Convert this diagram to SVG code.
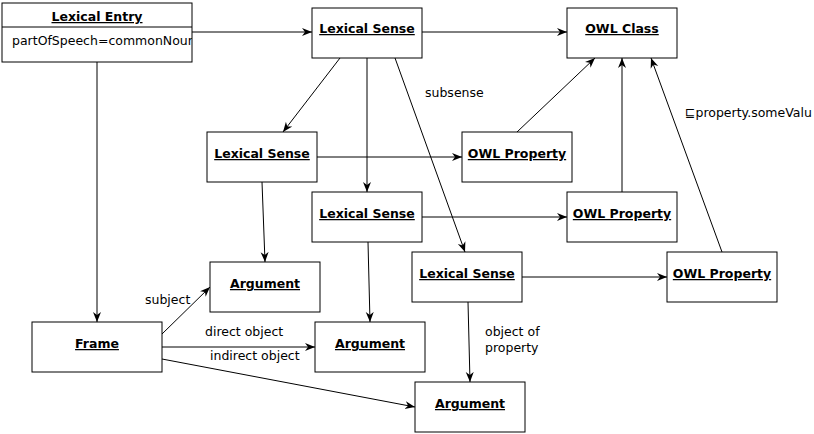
<svg xmlns="http://www.w3.org/2000/svg" width="814" height="434" viewBox="0 0 814 434">
<style>
.box{fill:#fff;stroke:#000;stroke-width:1}
.t{font-family:"DejaVu Sans",sans-serif;font-size:12.5px;font-weight:bold;text-anchor:middle;text-decoration:underline;fill:#000}
.l{font-family:"DejaVu Sans",sans-serif;font-size:12.5px;fill:#000}
.c{stroke:#000;stroke-width:1;fill:none;marker-end:url(#a)}
</style>
<defs>
<marker id="a" viewBox="0 0 10 10" refX="10" refY="5" markerWidth="10" markerHeight="10" markerUnits="userSpaceOnUse" orient="auto">
<path d="M0,1 L10,5 L0,9 L3,5 Z" fill="#000"/>
</marker>
<clipPath id="ce"><rect x="2" y="3" width="190" height="59"/></clipPath>
</defs>
<rect width="814" height="434" fill="#fff"/>
<g id="connectors">
<line class="c" x1="192" y1="32" x2="312" y2="32"/>
<line class="c" x1="97" y1="62" x2="97" y2="322"/>
<line class="c" x1="422" y1="32" x2="567" y2="32"/>
<line class="c" x1="340" y1="58" x2="283" y2="132"/>
<line class="c" x1="367" y1="58" x2="367" y2="192"/>
<line class="c" x1="395" y1="58" x2="465" y2="252"/>
<line class="c" x1="317" y1="157" x2="462" y2="157"/>
<line class="c" x1="422" y1="217" x2="567" y2="217"/>
<line class="c" x1="522" y1="277" x2="667" y2="277"/>
<line class="c" x1="517" y1="132" x2="595" y2="58"/>
<line class="c" x1="622" y1="192" x2="622" y2="58"/>
<line class="c" x1="722" y1="252" x2="651" y2="58"/>
<line class="c" x1="262" y1="182" x2="265" y2="262"/>
<line class="c" x1="368" y1="242" x2="370" y2="322"/>
<line class="c" x1="468" y1="302" x2="470" y2="382"/>
<line class="c" x1="162" y1="334" x2="210" y2="287"/>
<line class="c" x1="162" y1="347" x2="315" y2="347"/>
<line class="c" x1="162" y1="359" x2="415" y2="407"/>
<text class="l" x="425" y="97">subsense</text>
<text class="l" x="685" y="117">⊑property.someValu</text>
<text class="l" x="485" y="336">object of</text>
<text class="l" x="485" y="352">property</text>
<text class="l" x="145" y="304">subject</text>
<text class="l" x="205" y="336">direct object</text>
<text class="l" x="210" y="360">indirect object</text>
</g>
<g id="lexicalEntry">
<rect class="box" x="2" y="3" width="190" height="59"/>
<line x1="2" y1="27" x2="192" y2="27" stroke="#000"/>
<text class="t" x="97" y="21">Lexical Entry</text>
<text class="l" x="12" y="45" clip-path="url(#ce)">partOfSpeech=commonNoun</text>
</g>
<g id="lexicalSense1"><rect class="box" x="312" y="8" width="110" height="50"/><text class="t" x="367" y="33">Lexical Sense</text></g>
<g id="owlClass"><rect class="box" x="567" y="8" width="110" height="50"/><text class="t" x="622" y="33">OWL Class</text></g>
<g id="lexicalSense2"><rect class="box" x="207" y="132" width="110" height="50"/><text class="t" x="262" y="158">Lexical Sense</text></g>
<g id="owlProperty1"><rect class="box" x="462" y="132" width="110" height="50"/><text class="t" x="517" y="158">OWL Property</text></g>
<g id="lexicalSense3"><rect class="box" x="312" y="192" width="110" height="50"/><text class="t" x="367" y="218">Lexical Sense</text></g>
<g id="owlProperty2"><rect class="box" x="567" y="192" width="110" height="50"/><text class="t" x="622" y="218">OWL Property</text></g>
<g id="lexicalSense4"><rect class="box" x="412" y="252" width="110" height="50"/><text class="t" x="467" y="278">Lexical Sense</text></g>
<g id="owlProperty3"><rect class="box" x="667" y="252" width="110" height="50"/><text class="t" x="722" y="278">OWL Property</text></g>
<g id="argument1"><rect class="box" x="210" y="262" width="110" height="50"/><text class="t" x="265" y="288">Argument</text></g>
<g id="frame"><rect class="box" x="32" y="322" width="130" height="50"/><text class="t" x="97" y="348">Frame</text></g>
<g id="argument2"><rect class="box" x="315" y="322" width="110" height="50"/><text class="t" x="370" y="348">Argument</text></g>
<g id="argument3"><rect class="box" x="415" y="382" width="110" height="50"/><text class="t" x="470" y="408">Argument</text></g>
</svg>
